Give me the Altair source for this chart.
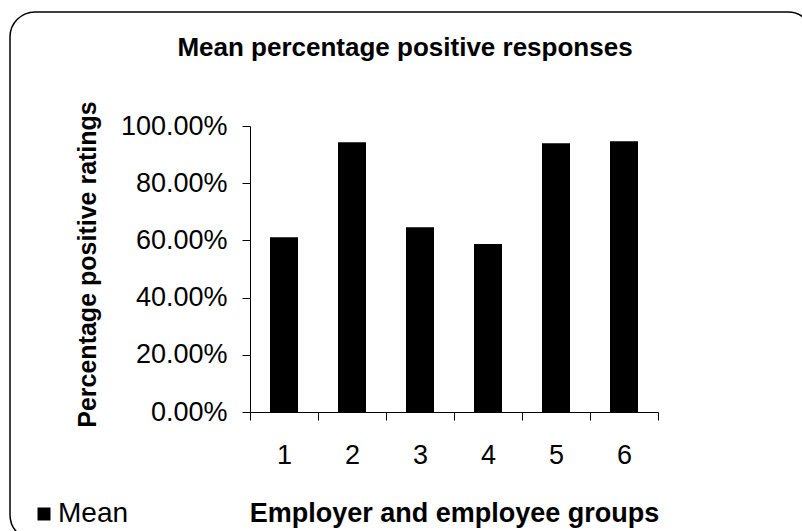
import altair as alt
import pandas as pd

groups = ["1", "2", "3", "4", "5", "6"]
means = [0.611, 0.943, 0.646, 0.587, 0.940, 0.947]
series = ["Mean"] * 6

df = pd.DataFrame({"group": groups, "value": means, "series": series})

FONT = "Liberation Sans"
W, H = 408, 286
PL, PT = 250, 126

bars = alt.Chart(df).mark_bar(color="black", width=28).encode(
    x=alt.X(
        "group:N",
        sort=groups,
        scale=alt.Scale(paddingInner=0, paddingOuter=0),
        axis=alt.Axis(
            title="Employer and employee groups",
            labelAngle=0,
            labelFontSize=27,
            labelFont=FONT,
            labelColor="black",
            labelBaseline="alphabetic",
            labelPadding=43,
            tickSize=8,
            tickColor="black",
            domainColor="black",
            tickBand="extent",
            titleFont=FONT,
            titleFontSize=27,
            titleFontWeight="bold",
            titleColor="black",
            titleBaseline="alphabetic",
            titleX=W / 2,
            titleY=109,
        ),
    ),
    y=alt.Y(
        "value:Q",
        scale=alt.Scale(domain=[0, 1], nice=False),
        axis=alt.Axis(
            title="Percentage positive ratings",
            values=[0, 0.2, 0.4, 0.6, 0.8, 1.0],
            format=".2%",
            grid=False,
            labelFontSize=27,
            labelFont=FONT,
            labelColor="black",
            labelPadding=15,
            tickSize=8,
            tickColor="black",
            domainColor="black",
            titleFont=FONT,
            titleFontSize=25,
            titleFontWeight="bold",
            titleColor="black",
            titleAngle=270,
            titleAlign="center",
            titleBaseline="middle",
            titleX=87 - PL,
            titleY=138,
        ),
    ),
    color=alt.Color(
        "series:N",
        scale=alt.Scale(domain=["Mean"], range=["black"]),
        legend=alt.Legend(
            title=None,
            orient="none",
            legendX=30 - PL,
            legendY=374,
            padding=0,
            symbolType="square",
            symbolSize=169,
            symbolStrokeWidth=0,
            symbolOffset=0,
            labelFontSize=28,
            labelFont=FONT,
            labelColor="black",
            labelOffset=0,
        ),
    ),
)

frame = alt.Chart(alt.Data(values=[{"k": 1}])).mark_rect(
    fill="white", fillOpacity=0, stroke="black", strokeWidth=1.5, cornerRadius=25
).encode(
    x=alt.value(10 - PL),
    x2=alt.value(813 - PL),
    y=alt.value(12 - PT),
    y2=alt.value(540 - PT),
)

chart = alt.layer(frame, bars).properties(
    width=W,
    height=H,
    background="white",
    autosize=alt.AutoSizeParams(type="none"),
    padding={"left": PL, "top": PT, "right": 802 - PL - W, "bottom": 531 - PT - H},
    title=alt.TitleParams(
        text="Mean percentage positive responses",
        font=FONT,
        fontSize=26,
        fontWeight="bold",
        color="black",
        anchor="middle",
        frame="group",
        baseline="alphabetic",
        offset=0,
        dx=-49,
        dy=71,
    ),
).configure_view(stroke=None)

chart.save("out.html", embed_options={"renderer": "svg", "actions": False})
